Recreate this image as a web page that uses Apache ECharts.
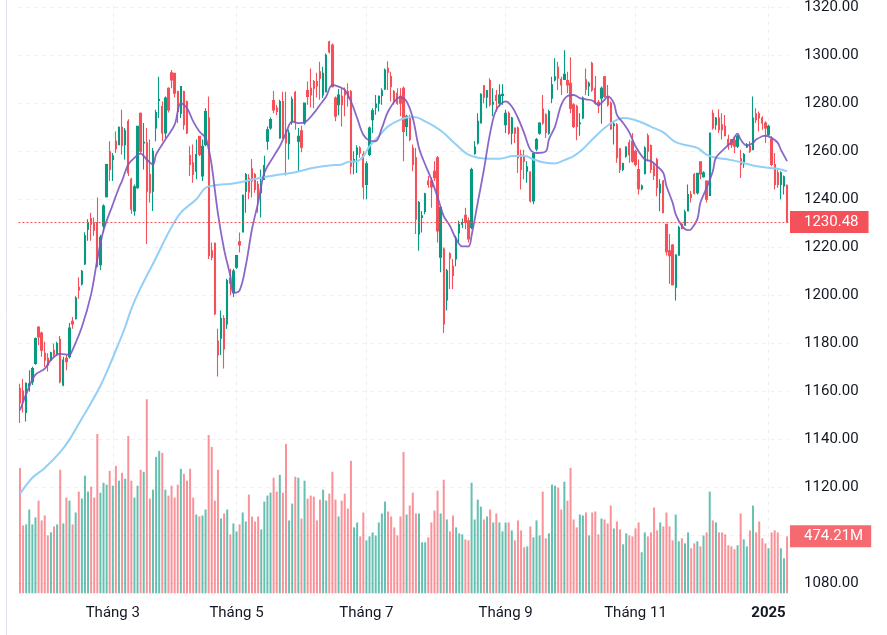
<!DOCTYPE html>
<html><head><meta charset="utf-8">
<script src="https://cdn.jsdelivr.net/npm/echarts@6/dist/echarts.min.js"></script>
<style>html,body{margin:0;padding:0;background:#fff}#c{width:887px;height:635px}</style>
</head><body><div id="c"></div>
<script>
const tickLabels = ['Tháng 3','Tháng 5','Tháng 7','Tháng 9','Tháng 11','2025'];
const tickIndex = [30,70,112,157,199,242];

const open = [1161,1160,1151,1162.1,1163.9,1171.5,1186.7,1184.2,1175.7,1173.6,
1172.9,1177,1175.7,1181.6,1162.5,1173.6,1174.3,1189.1,1190.2,1203.3,
1204.7,1213,1227.5,1232,1230,1230.3,1212.7,1228.9,1241.1,1259.8,
1256.6,1264.2,1262.8,1270,1262.8,1272.5,1248.3,1235.1,1244.8,1275.9,
1263.5,1263.5,1250.3,1243.4,1269.7,1281.2,1278.7,1267.7,1286.3,1292.8,
1292.5,1284.9,1275.9,1284.9,1280.8,1258.2,1255.2,1251.7,1266.3,1249.7,
1262.8,1273.9,1218.5,1221.6,1180.8,1182,1190.2,1188,1207,1201,
1211.6,1222.3,1226.4,1243.4,1248.6,1252.7,1250.3,1246.2,1242.7,1248.3,
1264.2,1269.7,1281.2,1278,1265.6,1280.8,1269,1263.2,1272.1,1284.5,
1264.2,1268.6,1271.8,1285.3,1286.3,1289.1,1289.1,1293.2,1283.5,1284.9,
1305.7,1304.3,1282.2,1279.4,1282.9,1285.6,1284.9,1284.9,1255.6,1258.7,
1261.4,1258.7,1246.2,1258.7,1273.2,1278.3,1280.1,1283.3,1286,1294.6,
1291.2,1284.9,1284.2,1282.9,1286.3,1270.4,1273.9,1261.4,1257.3,1225.5,
1232.4,1234.9,1247.6,1247.6,1251.7,1257.3,1215.8,1219.2,1198,1217.2,
1212,1215.1,1225.9,1229.6,1233.3,1231,1228.2,1259.1,1263.5,1271.8,
1287.3,1282.6,1289.5,1279.7,1283.3,1280.1,1283.3,1271.1,1275.9,1267.6,
1269.7,1269.7,1258.6,1257.9,1251.7,1251.3,1239.3,1261,1267.6,1277.6,
1275.2,1267.6,1282.2,1289.8,1295,1290,1290,1289.5,1288.4,1279.4,
1278.7,1271.5,1273.9,1289.8,1287.3,1296.7,1286.3,1280.4,1282.2,1291.1,
1282.9,1280.1,1270.7,1271.1,1261,1252.4,1258,1263.5,1264.2,1260,
1252.4,1244.4,1250.8,1266.5,1262.4,1253.8,1256.6,1242.7,1247.6,1229.5,
1218.5,1220.9,1203.3,1216.7,1229.6,1229.2,1235.1,1242,1250.3,1242.7,
1255.6,1249.4,1247.6,1241.6,1275.9,1271.1,1273.9,1271.1,1270.4,1264.9,
1264.9,1264.6,1262.1,1256.9,1254.8,1261.8,1262.1,1260.7,1275.7,1275.7,
1273.9,1271.8,1266.9,1265.1,1254.5,1251,1246.2,1245.5,1245.8];

const close = [1155,1156,1163.2,1163,1169.4,1181.9,1182.6,1177,1172.9,1170.8,
1175.9,1175,1179.8,1163.9,1172.9,1172.2,1186.3,1188,1198.8,1202.2,
1209.9,1224.8,1230.3,1229.6,1227.1,1211.9,1224.1,1237.2,1254.5,1252.4,
1258,1261.1,1270,1262.5,1268.6,1251,1235.8,1245.2,1270.4,1260,
1263.8,1243.4,1242.7,1260,1276.2,1281.7,1267.7,1282.2,1277.3,1289.8,
1284.2,1276.6,1287,1271.1,1267.7,1254.5,1250.3,1258.7,1258.7,1262.1,
1276.6,1216.5,1215.8,1192.3,1175,1190.2,1177.5,1206.1,1205,1210,
1216.5,1220.9,1241.6,1250.3,1243,1247.6,1244.1,1240,1246.2,1254.1,
1269,1273.2,1277.3,1276.6,1280.8,1265.6,1263.5,1267.6,1281.7,1272.5,
1266.3,1261.7,1280.1,1282.9,1283.5,1286.3,1287.3,1290.5,1292.5,1300.1,
1301.5,1287,1274.6,1283.5,1279.4,1283.5,1282.2,1253.8,1256.6,1261.4,
1259.3,1245.1,1254.8,1269.7,1276.9,1279.7,1282.9,1285.2,1293.9,1293,
1287,1280.8,1280.1,1280.1,1268.3,1274.6,1264.9,1254.5,1231.7,1238.6,
1233.1,1242.3,1246.2,1245.1,1249,1226.8,1236.5,1188,1210.2,1215.4,
1208.2,1223.7,1229.6,1230.3,1230.3,1223.4,1252.4,1261.8,1272.5,1283.8,
1282.6,1285.3,1279.4,1280.4,1281.2,1283.5,1283.8,1275.9,1267.6,1273.9,
1267.6,1257.3,1252.4,1255.9,1253.5,1239.3,1259.1,1264.9,1271.8,1271.8,
1267.9,1276.6,1287.7,1291.1,1290.5,1287.7,1292.1,1287.7,1278,1270.4,
1270.4,1271.8,1282.2,1285.9,1288.4,1285.6,1280.1,1279,1286.3,1282.9,
1279.4,1269.3,1271.4,1257.3,1252.4,1254.9,1261.8,1258.6,1255.9,1254.5,
1244.4,1245.5,1261.4,1260,1252.4,1249.9,1244.8,1246.2,1234.4,1218.1,
1216.5,1204.3,1216.7,1228.2,1227.8,1234.7,1242,1240.7,1242.5,1250.8,
1250.6,1251,1240,1267.6,1269.7,1273.9,1269,1269,1266.5,1262.1,
1262.8,1262.1,1266.3,1254.5,1258.6,1262.8,1260,1273.9,1273.2,1273.9,
1271.8,1269.7,1270.4,1254.5,1246.2,1246.2,1251,1249.4,1230.48];

const high = [1163,1165,1163.5,1168.7,1170.1,1182.3,1187,1184.7,1180.5,1175.7,
1176.4,1179.8,1180.5,1182.9,1174.3,1175,1188.4,1190.9,1199.5,1207.5,
1210.5,1226.2,1231.7,1234.4,1232.4,1240.7,1225.2,1237.9,1254.8,1264.2,
1259.3,1268.3,1270.4,1277.3,1269.7,1273.4,1249,1246.2,1270.7,1276.2,
1271.8,1269.7,1264.9,1261.4,1277.3,1291.1,1280.8,1282.9,1286.7,1293.9,
1292.8,1285.3,1287.3,1285.3,1281.2,1262.1,1262.8,1264.9,1266.5,1264.9,
1278,1282.9,1222,1222,1186,1193.6,1191.6,1206.8,1211,1211,
1216.7,1226.1,1242,1251,1250.4,1256.8,1251,1247.6,1252.4,1258.2,
1270.4,1274.1,1285.2,1279.4,1281.5,1284.9,1284.9,1269,1282.9,1285.2,
1269.7,1270.7,1280.4,1289.1,1294.6,1289.8,1292.8,1297.4,1295.3,1300.8,
1306.1,1305,1282.9,1286,1286.3,1286.6,1288.4,1285.6,1260,1262.5,
1262.1,1260,1255.9,1270.4,1278,1283.5,1283.3,1286.3,1294.6,1297.6,
1293.2,1285.6,1286.3,1286.3,1287,1275.3,1275.3,1262.8,1261.4,1239.3,
1235.1,1242.7,1249.7,1249,1255.9,1258,1237.2,1219.9,1210.9,1217.9,
1215.1,1224.8,1231,1232,1236.5,1232.4,1253.1,1264.2,1275.9,1284.2,
1287.7,1285.6,1290.5,1286.3,1285.6,1288,1288,1277.3,1276.6,1274.3,
1269.7,1270.4,1260.7,1260.7,1255.9,1251.7,1259.3,1265.6,1272.1,1283.5,
1275.9,1277.3,1291.1,1298.8,1297.4,1291.1,1302.2,1293.2,1299.2,1280.1,
1279.4,1275.9,1282.9,1294.6,1289.1,1297.4,1291.4,1281.5,1287,1291.4,
1287.7,1280.8,1272.5,1271.8,1261.4,1255.2,1262.1,1264.9,1267.6,1260.7,
1256.6,1246.2,1262.1,1267.4,1262.8,1255.2,1257.3,1248.3,1248,1229.6,
1225.5,1221.3,1217.1,1228.9,1230.3,1235.6,1246.2,1243.4,1251,1251,
1255.9,1251.7,1247.9,1267.9,1277.3,1274.3,1277.6,1275.9,1275.2,1266.9,
1265.1,1266.3,1266.9,1260.7,1259.3,1263.5,1264.2,1282.9,1278,1276.6,
1274.6,1272.5,1271.1,1266.3,1259.3,1252.4,1251.7,1249.9,1246.2];

const low = [1146.6,1151,1147.3,1159.8,1162.5,1171,1179.1,1174.3,1170.1,1168.1,
1172.6,1174.3,1175,1163.2,1162,1168.7,1173.6,1186,1189.8,1198.5,
1204,1212.6,1222.7,1222.7,1224.8,1211.6,1210.5,1226.2,1240.7,1247.6,
1247.6,1259.3,1262.5,1258.7,1256.6,1249.7,1233.8,1233.1,1244.4,1259.3,
1252.4,1221.3,1238.6,1235.1,1264.2,1273.9,1264.2,1265.6,1276.2,1286.3,
1282.6,1271.8,1273.9,1269,1267.2,1249.7,1246.9,1248.3,1257.9,1247.6,
1262.1,1215.1,1214.5,1191.6,1166,1175,1169.4,1186,1200,1199.2,
1210.9,1217.8,1226.1,1234.4,1240,1240.7,1242.7,1234.4,1232.4,1248,
1260.7,1269,1275.9,1275.2,1265.2,1265.2,1249.9,1256.6,1271.1,1269,
1251.7,1259.6,1271.1,1279.4,1278.4,1278,1282.4,1281.5,1282.2,1284.5,
1300.8,1286.6,1272.5,1275,1270.4,1274.6,1278.7,1250.4,1250.4,1251,
1257.3,1240,1240,1258,1267.6,1275.3,1276.6,1279.4,1285.6,1285.6,
1280.8,1279.4,1279.4,1274.6,1255.9,1266.3,1264.2,1251.7,1225.5,1218.5,
1226.1,1233.7,1244.8,1236.5,1247.6,1222,1209.5,1184.2,1193.6,1202.6,
1202.4,1212,1222,1228,1227.5,1222,1227.5,1258.6,1262.8,1271.8,
1280.1,1278,1278.7,1274.6,1276.6,1278.7,1279.4,1267.6,1266.9,1262.8,
1263.5,1251,1244.1,1248.3,1246.9,1238.6,1237.9,1260,1266.9,1271.1,
1265.6,1266.9,1280.1,1289.1,1285.6,1283.5,1289.8,1284.2,1275.9,1269.7,
1264.6,1266.5,1273.4,1283.5,1283.1,1284.9,1279.4,1275.9,1271.5,1282.2,
1278.7,1269,1262.8,1255.2,1251,1251.7,1257.3,1255.2,1255.2,1253.8,
1242,1243.8,1250.3,1255.9,1251,1248,1241.3,1235,1234.2,1216.5,
1204.7,1204,1197.8,1216.5,1227.5,1228.9,1235.1,1238.6,1242,1242,
1248.3,1249,1238.6,1241.4,1269,1269,1267.6,1264.9,1266.3,1260.7,
1261.4,1259.3,1261.4,1248.9,1253.1,1261.4,1259.3,1260.4,1271.8,1268.3,
1269,1263.5,1266.3,1253.8,1244.1,1244.8,1240,1242,1230.3];

// volume in millions
const volume = [1043,565,574,698,574,632,772,607,648,483,
508,557,574,1029,582,797,772,574,673,847,
789,979,847,888,797,1327,838,921,905,1020,
896,1062,938,1004,954,1310,938,797,896,1029,
1012,1616,789,863,1136,1186,1169,863,814,896,
797,905,1037,996,938,1037,797,656,640,648,
698,1318,1219,772,1029,623,665,698,491,582,
516,574,673,598,822,640,598,640,532,764,
814,838,963,847,987,838,1244,607,747,971,
963,623,938,789,814,805,607,780,863,772,
830,1012,780,640,772,830,706,1103,549,590,
474,673,441,474,507,482,590,665,764,681,
640,549,482,640,1178,656,731,838,665,665,
425,425,466,590,689,855,665,946,615,516,
648,549,499,491,449,441,921,615,780,722,
615,640,698,590,665,590,516,590,590,524,
441,607,524,383,391,557,466,607,482,847,
458,499,905,896,880,698,929,772,1045,615,
549,656,648,673,482,673,681,491,623,615,
582,731,540,598,532,408,499,482,474,540,
590,342,507,474,507,714,524,590,557,673,
557,441,656,433,458,416,507,375,416,433,
391,482,507,847,607,590,507,507,491,400,
391,367,400,665,449,391,524,731,507,598,
458,416,375,507,524,507,375,292,474.21];

// short moving average (purple), read at sampled bars
const maFastIdx = [0,3,5,8,10,13,16,17,20,23,25,27,30,32,33,35,37,39,41,43,44,47,50,52,54,56,58,60,61,62,64,66,68,69,71,73,75,77,79,82,84,86,88,90,92,95,97,99,101,103,105,107,109,111,113,115,117,119,122,123,125,127,129,131,133,135,137,139,141,143,145,146,148,150,152,154,157,159,161,163,165,167,170,171,173,175,177,179,181,183,185,187,189,190,192,193,195,197,199,202,204,206,208,209,211,212,214,216,217,219,220,222,224,225,228,230,232,233,235,237,238,240,241,243,245,246,248];
const maFastVal = [1152,1161.8,1166.8,1169.3,1173,1175.5,1175.1,1177.2,1186.7,1200.4,1214.9,1227,1237.8,1244.8,1247.7,1254.5,1257.3,1259,1256.6,1254.5,1258.6,1264.9,1271.1,1280.1,1278,1272.5,1268.3,1265.6,1261,1254,1234,1219,1208,1201,1202,1212.3,1227.5,1238.6,1251,1257.9,1262.1,1267.6,1272.5,1271.8,1272.1,1275.9,1279.4,1282.9,1287.7,1287,1285.6,1280.8,1273.9,1266.9,1264.5,1264.2,1269.7,1276.6,1282.2,1282.5,1280.8,1273.9,1261.4,1254.5,1248.3,1241,1233,1228.9,1223.4,1220.3,1220.3,1224.8,1238.6,1252.4,1267.6,1277.3,1280.8,1278.7,1273.9,1267.6,1260.7,1259.3,1260,1264.9,1270.4,1279.4,1283.1,1283.5,1282.2,1281.7,1281.2,1279.4,1281.5,1282.9,1280.1,1275.2,1271.8,1267.9,1262.1,1256.6,1255.9,1253.8,1251,1245.5,1238.6,1233.7,1228.9,1227.1,1227.5,1231.7,1238.6,1244.8,1251.7,1257.3,1261.4,1263.8,1267.4,1264.9,1262.4,1263.5,1264.9,1266.3,1266.5,1265.6,1263.5,1260.7,1255.9];

// long moving average (light blue), read at sampled bars
const maSlowIdx = [0,4,8,13,16,19,26,31,34,36,39,44,48,52,57,60,63,69,73,78,84,89,95,100,104,106,109,111,113,116,119,123,126,128,131,134,137,141,145,150,155,159,163,166,170,173,176,179,182,185,189,192,195,198,202,205,208,212,216,219,222,225,229,233,237,242,245,248];
const maSlowVal = [1117.1,1123.8,1127.9,1134.5,1139.7,1146.3,1162.2,1177,1186.7,1194.3,1203,1215.6,1226,1234.4,1240,1244.8,1245.8,1246.6,1247.6,1249,1250.3,1251.3,1253.1,1254.1,1254.5,1255.6,1255.9,1257.9,1262.1,1266.3,1270.4,1273.2,1274.2,1274.2,1272.5,1270.4,1267.6,1262.8,1258.6,1257,1256.9,1258,1258.2,1256.6,1255.2,1254.9,1256.3,1258,1261,1264.9,1269.7,1272.5,1273.9,1273.4,1271.5,1269.7,1267.9,1263.8,1262.4,1261.4,1258.6,1257.3,1256.6,1255.5,1254.1,1253.1,1252.7,1251.7];

const UP = '#089981', DOWN = '#f5515a';
const UP_VOL = 'rgba(8,153,129,0.62)', DOWN_VOL = 'rgba(245,81,90,0.62)';
const FONT = 'Roboto, "Noto Sans", sans-serif';
const TXT = '#131722';
const N = close.length;
const bars = close.map((_, i) => String(i));
const last = N - 1;

const chart = echarts.init(document.getElementById('c'), null, {renderer: 'canvas'});
chart.setOption({
  animation: false,
  backgroundColor: '#ffffff',
  textStyle: {fontFamily: FONT},
  grid: {left: 18.45, right: 98.4, top: 0, bottom: 41.7},
  graphic: [{type: 'line', shape: {x1: 6.5, y1: 0, x2: 6.5, y2: 635}, style: {stroke: '#e0e3eb', lineWidth: 1}, silent: true}],
  xAxis: [{
    type: 'category', data: bars, boundaryGap: true,
    axisLine: {show: false}, axisTick: {show: false}, splitLine: {show: false},
    axisLabel: {
      interval: (i) => tickIndex.indexOf(i) >= 0,
      formatter: (v, i) => {
        const k = tickIndex.indexOf(Number(v));
        if (k < 0) return '';
        const t = tickLabels[k];
        return /^\d{4}$/.test(t) ? '{b|' + t + '}' : t;
      },
      color: TXT, fontSize: 15, fontFamily: FONT, margin: 12,
      rich: {b: {fontWeight: 'bold', fontSize: 15, color: TXT, fontFamily: FONT}}
    }
  }],
  yAxis: [{
    type: 'value', position: 'right', min: 1075.6, max: 1321.55, splitNumber: 12,
    axisLine: {show: false}, axisTick: {show: false},
    axisLabel: {formatter: (v) => v.toFixed(2), color: TXT, fontSize: 15, fontFamily: FONT,
      margin: 15.5, align: 'left', showMinLabel: false, showMaxLabel: false},
    splitLine: {show: true, showMinLine: false, showMaxLine: false, lineStyle: {color: '#eef0f5', type: [4, 4], width: 1}}
  }, {
    type: 'value', min: 0, max: 4910, show: false, splitLine: {show: false}
  }],
  series: [
    {
      type: 'line', data: [], silent: true, z: 0,
      markLine: {
        silent: true, symbol: ['none', 'none'], z: 0, animation: false,
        label: {show: false},
        lineStyle: {color: '#eceef3', type: [4, 4], width: 1},
        data: tickIndex.map(i => ({xAxis: i}))
      }
    },
    {
      name: 'Volume', type: 'bar', xAxisIndex: 0, yAxisIndex: 1, barWidth: 2,
      data: volume.map((v, i) => ({value: v, itemStyle: {color: close[i] >= open[i] ? UP_VOL : DOWN_VOL}})),
      markLine: {
        silent: true, symbol: ['none', 'none'], animation: false, z: 10,
        lineStyle: {color: 'rgba(0,0,0,0)', width: 1, type: 'solid'},
        label: {show: true, position: 'end', distance: 1.4, formatter: volume[last].toFixed(2) + 'M',
          backgroundColor: '#f56a70', color: '#ffffff', fontSize: 15, fontFamily: FONT,
          lineHeight: 16, padding: [3, 8, 3, 14]},
        data: [{yAxis: volume[last]}]
      }
    },
    {
      name: 'Price', type: 'candlestick', barWidth: 1.8,
      data: open.map((o, i) => [o, close[i], low[i], high[i]]),
      itemStyle: {color: UP, color0: DOWN, borderColor: UP, borderColor0: DOWN, borderWidth: 1.1},
      markLine: {
        silent: true, symbol: ['none', 'none'], animation: false,
        lineStyle: {color: DOWN, type: [2, 2], width: 1},
        label: {position: 'end', distance: 1.4, formatter: close[last].toFixed(2),
          backgroundColor: DOWN, color: '#ffffff', fontSize: 15, fontFamily: FONT,
          lineHeight: 16, padding: [3, 10, 3, 14]},
        data: [{yAxis: close[last]}]
      }
    },
    {
      name: 'MA slow', type: 'line', showSymbol: false, smooth: 0.35, silent: true,
      data: maSlowIdx.map((x, k) => [x, maSlowVal[k]]),
      lineStyle: {color: '#94cff6', width: 2}
    },
    {
      name: 'MA fast', type: 'line', showSymbol: false, smooth: 0.35, silent: true,
      data: maFastIdx.map((x, k) => [x, maFastVal[k]]),
      lineStyle: {color: '#7e57c2', width: 1.8, opacity: 0.9}
    }
  ]
});
</script>
</body></html>
